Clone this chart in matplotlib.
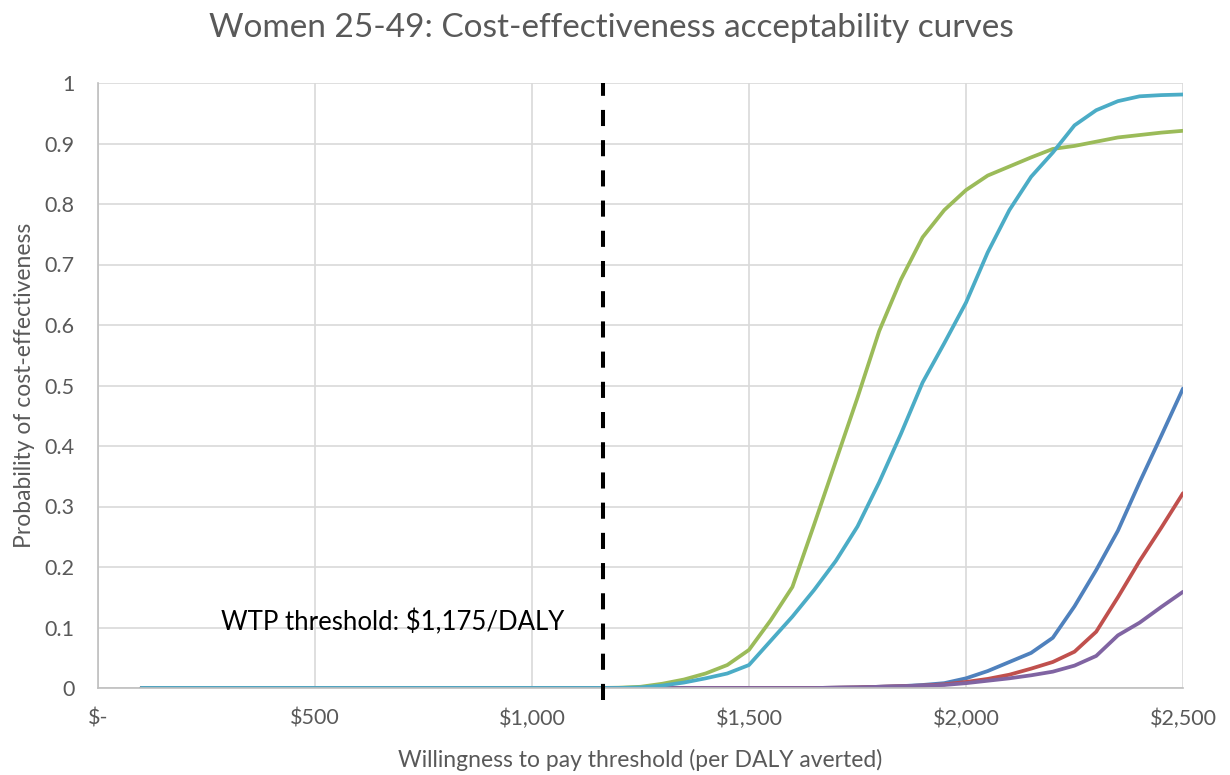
import numpy as np
import matplotlib
matplotlib.use("Agg")
import matplotlib.pyplot as plt

# willingness-to-pay grid ($ per DALY averted)
wtp = list(range(100, 2550, 50))

n_zero = 22  # 100 .. 1150 -> all zero
blue = [0]*n_zero + [0, 0, 0, 0, 0, 0, 0, 0, 0, 0, 0.0005, 0.001, 0.002, 0.003, 0.005, 0.008,
                     0.016, 0.028, 0.043, 0.058, 0.083, 0.135, 0.195, 0.26, 0.34, 0.417, 0.495]
red = [0]*n_zero + [0, 0, 0, 0, 0, 0, 0, 0, 0, 0, 0.0005, 0.001, 0.002, 0.003, 0.004, 0.006,
                    0.01, 0.015, 0.022, 0.032, 0.043, 0.06, 0.093, 0.15, 0.21, 0.265, 0.322]
green = [0]*n_zero + [0.0005, 0.002, 0.007, 0.014, 0.024, 0.038, 0.063, 0.112, 0.167, 0.27,
                      0.375, 0.48, 0.59, 0.675, 0.745, 0.79, 0.823, 0.847, 0.862, 0.877,
                      0.891, 0.896, 0.903, 0.91, 0.914, 0.918, 0.921]
purple = [0]*n_zero + [0, 0, 0, 0, 0, 0, 0, 0, 0, 0, 0.0005, 0.001, 0.002, 0.003, 0.004, 0.005,
                       0.008, 0.012, 0.016, 0.021, 0.027, 0.037, 0.053, 0.087, 0.108, 0.134, 0.159]
aqua = [0]*n_zero + [0, 0.001, 0.004, 0.009, 0.016, 0.024, 0.038, 0.078, 0.118, 0.162,
                     0.21, 0.267, 0.34, 0.42, 0.505, 0.57, 0.637, 0.72, 0.79, 0.845,
                     0.885, 0.93, 0.955, 0.97, 0.978, 0.98, 0.981]

# the dashed marker is a hand-drawn shape in the original, sitting just left of 1175
threshold_x = 1163
xticks = [0, 500, 1000, 1500, 2000, 2500]
xticklabels = ["$-", "$500", "$1,000", "$1,500", "$2,000", "$2,500"]
yticks = [0, 0.1, 0.2, 0.3, 0.4, 0.5, 0.6, 0.7, 0.8, 0.9, 1]
yticklabels = ["0", "0.1", "0.2", "0.3", "0.4", "0.5", "0.6", "0.7", "0.8", "0.9", "1"]

plt.rcParams['font.family'] = ['Lato', 'DejaVu Sans']
grey = '#595959'

fig = plt.figure(figsize=(12.3, 7.75), dpi=100)
ax = fig.add_axes([98/1230, 1 - 688/775, (1183-98)/1230, (688-83)/775])

lw = 2.7
ax.plot(wtp, blue, color='#4F81BD', lw=lw, solid_capstyle='round', solid_joinstyle='round')
ax.plot(wtp, red, color='#C0504D', lw=lw, solid_capstyle='round', solid_joinstyle='round')
ax.plot(wtp, green, color='#9BBB59', lw=lw, solid_capstyle='round', solid_joinstyle='round')
ax.plot(wtp, purple, color='#8064A2', lw=lw, solid_capstyle='round', solid_joinstyle='round')
ax.plot(wtp, aqua, color='#4BACC6', lw=lw, solid_capstyle='round', solid_joinstyle='round')

ax.plot([threshold_x, threshold_x], [-0.02, 1.0], color='black', lw=2.9,
        dashes=(4, 3.5), clip_on=False, zorder=5)
ax.text(680, 0.108, "WTP threshold: $1,175/DALY", ha='center', va='center',
        fontsize=18.5, color='black')

ax.set_xlim(0, 2500)
ax.set_ylim(0, 1)
ax.set_xticks(xticks)
ax.set_xticklabels(xticklabels)
ax.set_yticks(yticks)
ax.set_yticklabels(yticklabels)
ax.tick_params(length=0, labelsize=15.5, colors=grey)
ax.tick_params(axis='x', pad=15)
ax.tick_params(axis='y', pad=17)
ax.grid(True, color='#D9D9D9', lw=1.2)
ax.set_axisbelow(True)
for s in ['top', 'right']:
    ax.spines[s].set_visible(False)
for s in ['left', 'bottom']:
    ax.spines[s].set_color('#BFBFBF')
    ax.spines[s].set_linewidth(1.2)

ax.set_xlabel("Willingness to pay threshold (per DALY averted)", fontsize=16.5,
              color=grey, labelpad=14)
ax.set_ylabel("Probability of cost-effectiveness", fontsize=16.5, color=grey,
              labelpad=7)
fig.text(611/1230, 1 - 28/775, "Women 25-49: Cost-effectiveness acceptability curves",
         ha='center', va='center', fontsize=24, color=grey)

fig.savefig("out.png", dpi=100)
